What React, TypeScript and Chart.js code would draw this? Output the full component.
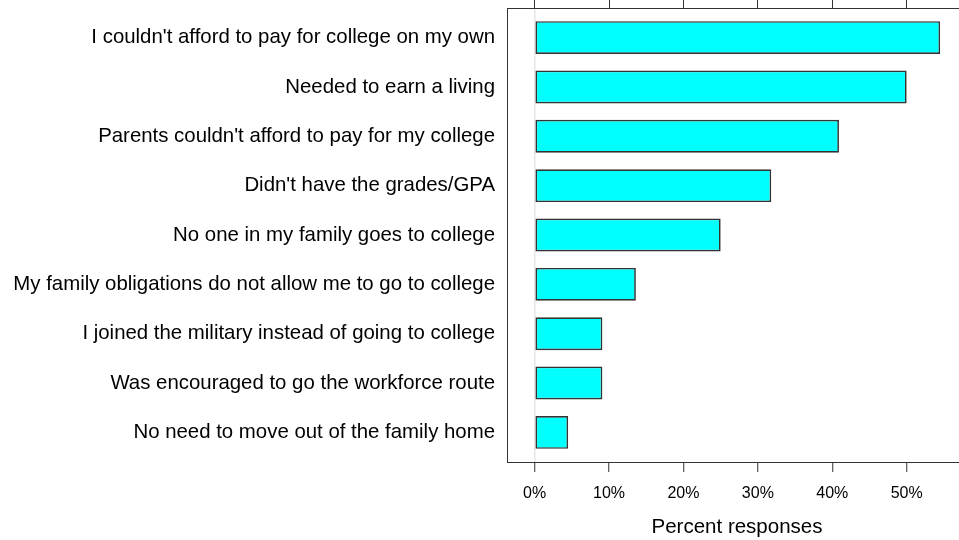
import React, { useEffect, useRef } from "react";
import { Chart, registerables } from "chart.js";

Chart.register(...registerables);

const categories: string[] = [
  "I couldn't afford to pay for college on my own",
  "Needed to earn a living",
  "Parents couldn't afford to pay for my college",
  "Didn't have the grades/GPA",
  "No one in my family goes to college",
  "My family obligations do not allow me to go to college",
  "I joined the military instead of going to college",
  "Was encouraged to go the workforce route",
  "No need to move out of the family home",
];

const percentValues: number[] = [54.5, 50.0, 40.9, 31.8, 25.0, 13.6, 9.1, 9.1, 4.5];

const xTickValues: number[] = [0, 10, 20, 30, 40, 50];

const X_MIN = -3.72;
const X_MAX = 58.11;
const FONT = "'Liberation Sans', Arial, sans-serif";
const LINE = "#333333";

export default function App() {
  const ref = useRef<HTMLCanvasElement | null>(null);

  useEffect(() => {
    const canvas = ref.current;
    if (!canvas) return;
    const chart = new Chart(canvas, {
      type: "bar",
      data: {
        datasets: [
          {
            label: "Percent responses",
            data: percentValues.map((v, i) => ({ x: v, y: i + 1 })),
            backgroundColor: "#00ffff",
            borderColor: LINE,
            borderWidth: 1.7,
            borderSkipped: false,
            categoryPercentage: 1,
            barPercentage: 2 / 3,
            xAxisID: "x",
            yAxisID: "y",
          },
        ],
      },
      options: {
        indexAxis: "y",
        responsive: false,
        animation: false,
        devicePixelRatio: 1,
        layout: { padding: 0 },
        plugins: {
          legend: { display: false },
          tooltip: { enabled: false },
        },
        scales: {
          x: {
            type: "linear",
            position: "bottom",
            min: X_MIN,
            max: X_MAX,
            offset: false,
            afterBuildTicks: (scale: any) => {
              scale.ticks = xTickValues.map((v) => ({ value: v }));
            },
            afterFit: (scale: any) => {
              scale.height = 78;
              scale.paddingLeft = 0;
              scale.paddingRight = 0;
            },
            ticks: {
              callback: (v: any) => `${v}%`,
              font: { family: FONT, size: 16 },
              color: "#000",
              padding: 12,
              maxRotation: 0,
              autoSkip: false,
            },
            grid: {
              offset: false,
              drawOnChartArea: true,
              drawTicks: true,
              tickLength: 10,
              tickColor: LINE,
              tickWidth: 1,
              lineWidth: 1.5,
              color: (ctx: any) =>
                ctx.tick && ctx.tick.value === 0 ? "#e6e6e6" : "rgba(0,0,0,0)",
            },
            border: { display: true, color: LINE, width: 1 },
            title: {
              display: true,
              text: "Percent responses",
              font: { family: FONT, size: 20.5 },
              color: "#000",
              padding: { top: 0, bottom: 0 },
            },
          },
          x2: {
            type: "linear",
            axis: "x",
            position: "top",
            min: X_MIN,
            max: X_MAX,
            offset: false,
            afterBuildTicks: (scale: any) => {
              scale.ticks = xTickValues.map((v) => ({ value: v }));
            },
            afterFit: (scale: any) => {
              scale.height = 10;
              scale.paddingLeft = 0;
              scale.paddingRight = 0;
            },
            ticks: { display: false },
            grid: {
              offset: false,
              drawOnChartArea: false,
              drawTicks: true,
              tickLength: 10,
              tickColor: LINE,
              tickWidth: 1,
            },
            border: { display: true, color: LINE, width: 1 },
          },
          y: {
            type: "linear",
            position: "left",
            reverse: true,
            offset: false,
            min: 0.4,
            max: categories.length + 0.6,
            afterBuildTicks: (scale: any) => {
              scale.ticks = categories.map((_, i) => ({ value: i + 1 }));
            },
            afterFit: (scale: any) => {
              scale.width = 507;
              scale.paddingTop = 0;
              scale.paddingBottom = 0;
            },
            ticks: {
              callback: (v: any) => categories[Number(v) - 1] ?? "",
              font: { family: FONT, size: 20.4 },
              color: "#000",
              padding: 12,
              autoSkip: false,
            },
            grid: { display: false, drawTicks: false, offset: false },
            border: { display: true, color: LINE, width: 1 },
          },
        },
      } as any,
    });
    return () => chart.destroy();
  }, []);

  return (
    <div
      style={{
        position: "absolute",
        left: 0,
        top: 0,
        width: 959,
        height: 540,
        overflow: "hidden",
        background: "#fff",
      }}
    >
      <canvas
        ref={ref}
        width={967}
        height={542}
        style={{ position: "absolute", left: 0, top: -2, width: 967, height: 542 }}
      />
    </div>
  );
}
